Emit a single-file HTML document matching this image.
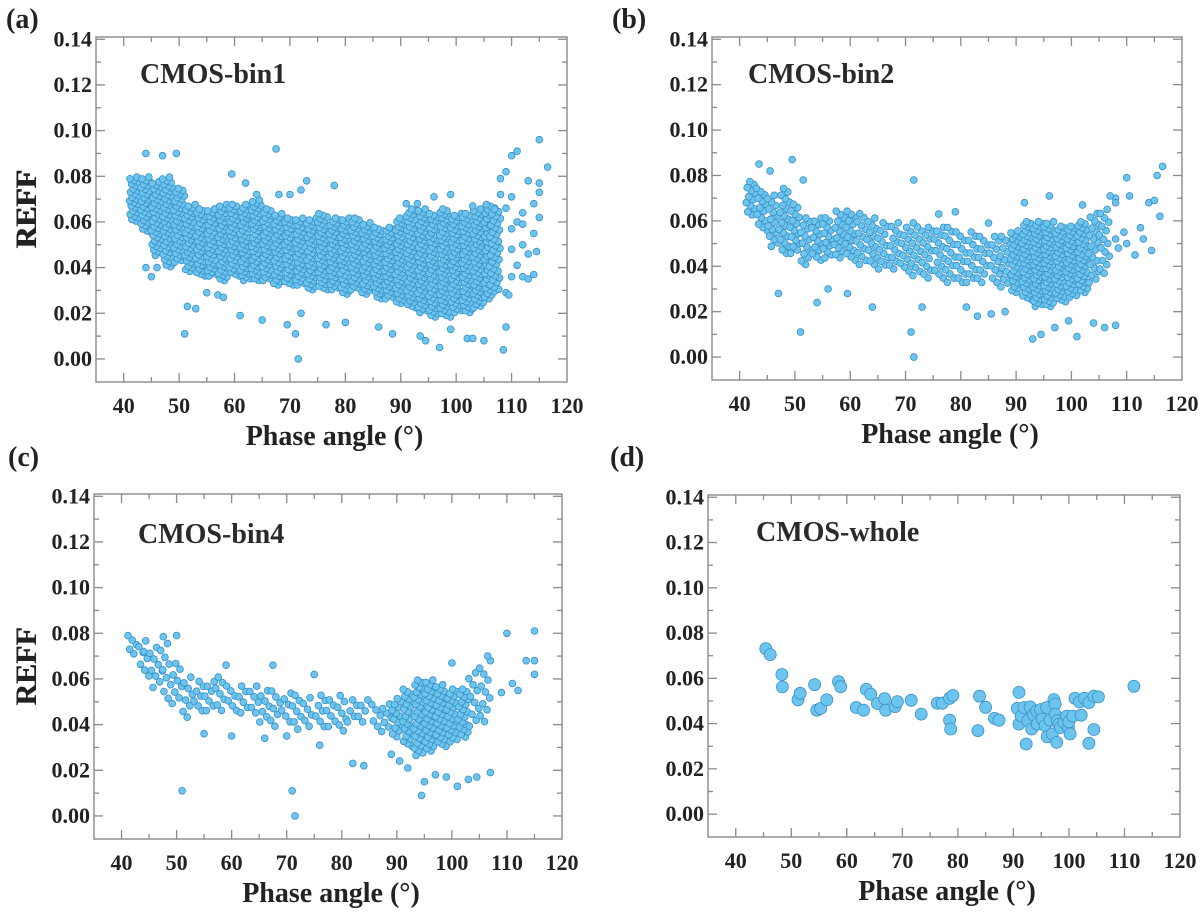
<!DOCTYPE html>
<html><head><meta charset="utf-8"><style>
html,body{margin:0;padding:0;background:#fff;}
svg{display:block;font-family:"Liberation Serif",serif;font-weight:bold;}
</style></head><body>
<svg id="fig" width="1200" height="912" viewBox="0 0 1200 912" xmlns="http://www.w3.org/2000/svg"></svg>
<script>
// ---------- DATA ----------
// Panel (a) CMOS-bin1: dense core bins + isolated points
const aBinX  = [42,44,46,48,50,52,54,56,58,60,62,64,66,68,70,72,74,76,78,80,82,84,86,88,90,92,94,96,98,100,102,104,106,107];
const aBinLo = [0.060,0.055,0.045,0.040,0.042,0.038,0.036,0.036,0.034,0.036,0.034,0.034,0.034,0.032,0.032,0.032,0.030,0.030,0.030,0.028,0.030,0.028,0.026,0.026,0.024,0.022,0.020,0.018,0.018,0.020,0.020,0.022,0.026,0.030];
const aBinHi = [0.080,0.080,0.078,0.080,0.075,0.068,0.066,0.066,0.068,0.068,0.068,0.070,0.066,0.064,0.062,0.062,0.062,0.064,0.062,0.062,0.062,0.060,0.058,0.058,0.062,0.066,0.066,0.064,0.066,0.064,0.064,0.066,0.068,0.066];
const aBinN  = [27,33,42,51,42,39,39,39,45,42,45,48,42,42,39,39,42,45,42,45,42,42,42,42,51,57,60,60,63,57,57,57,54,36];
const aPtX = [47,49.5,44,59.5,67.5,62,78,73,51,51.5,53,61,65,69.5,71,71.5,72,76.5,80,86,88.5,93.5,94.5,97,99,102,103,105,108.5,109,110,111,115,116.5,115,115,113,112,114,115,110,111,110,111,112,113,114,112,113,114,114.5,109,109.5,110,108,109,108,109,110,112,45,44,46,55,57,58,64,68,70,72,91,93,96,99,103];
const aPtY = [0.089,0.090,0.090,0.081,0.092,0.077,0.076,0.078,0.011,0.023,0.022,0.019,0.017,0.015,0.011,0.000,0.020,0.015,0.016,0.014,0.011,0.010,0.008,0.005,0.013,0.009,0.009,0.008,0.004,0.014,0.089,0.091,0.096,0.084,0.077,0.073,0.078,0.064,0.068,0.062,0.071,0.060,0.048,0.041,0.036,0.035,0.037,0.050,0.046,0.055,0.047,0.029,0.028,0.036,0.079,0.082,0.072,0.066,0.057,0.059,0.036,0.040,0.040,0.029,0.028,0.027,0.072,0.072,0.072,0.074,0.068,0.068,0.071,0.072,0.067];

// Panel (b) CMOS-bin2
const bBinX  = [42,44,46,48,50,52,54,56,58,60,62,64,66,68,70,72,74,76,78,80,82,84,86,88,90,92,94,96,98,100,102,104,106];
const bBinLo = [0.062,0.055,0.048,0.045,0.045,0.040,0.042,0.043,0.043,0.042,0.040,0.040,0.038,0.038,0.037,0.035,0.034,0.034,0.032,0.032,0.032,0.032,0.032,0.030,0.028,0.025,0.022,0.022,0.024,0.026,0.028,0.032,0.036];
const bBinHi = [0.078,0.075,0.072,0.075,0.068,0.062,0.062,0.062,0.065,0.065,0.064,0.062,0.060,0.060,0.058,0.060,0.058,0.058,0.058,0.056,0.056,0.054,0.054,0.054,0.056,0.060,0.060,0.060,0.058,0.058,0.060,0.064,0.066];
const bBinN  = [12,14,16,20,16,14,14,14,15,16,14,14,13,13,12,14,14,14,14,13,13,12,12,14,32,44,50,50,44,40,36,20,16];
const bPtX = [43.5,45.5,49.5,51.5,71.5,51,71,71.5,64,73,81,83,85.5,47,59.5,56,54,88,93,94.5,97,101,106,104,108,99.5,110,115.5,116.5,114,115,116,110.5,109.5,110,112.5,113,111.5,114.5,108,108.5,108,108,107,96,102,91.5,85,76,79];
const bPtY = [0.085,0.082,0.087,0.078,0.078,0.011,0.011,0.000,0.022,0.022,0.022,0.018,0.019,0.028,0.028,0.030,0.024,0.020,0.008,0.010,0.013,0.009,0.013,0.015,0.014,0.016,0.079,0.080,0.084,0.068,0.069,0.062,0.071,0.055,0.050,0.057,0.052,0.045,0.047,0.052,0.048,0.070,0.068,0.071,0.071,0.067,0.068,0.059,0.063,0.064];

// Panel (c) CMOS-bin4
const cBinX  = [42,44,46,48,50,52,54,56,58,60,62,64,66,68,70,72,74,76,78,80,82,84,86,88,90,92,94,96,98,100,102,104,106];
const cBinLo = [0.070,0.060,0.055,0.050,0.048,0.042,0.045,0.045,0.045,0.045,0.044,0.044,0.040,0.038,0.040,0.040,0.038,0.038,0.038,0.036,0.040,0.040,0.038,0.036,0.034,0.030,0.026,0.028,0.030,0.032,0.034,0.038,0.040];
const cBinHi = [0.080,0.078,0.075,0.080,0.068,0.062,0.060,0.060,0.062,0.058,0.058,0.058,0.056,0.056,0.055,0.054,0.053,0.054,0.052,0.054,0.052,0.052,0.050,0.050,0.052,0.056,0.060,0.060,0.058,0.056,0.056,0.064,0.066];
const cBinN  = [5,7,8,10,8,8,7,7,7,6,6,6,7,7,6,6,6,7,6,7,5,5,5,7,14,24,32,32,28,24,20,10,10];
const cPtX = [51,71,71.5,110,115,113.5,115,115,111,112,109,107,106.5,100,82,84,95,94.5,92,97,101,103,104.5,107,99,55,60,70,66,72,76,89,90.5,50,44,47.5,75,67.5,59];
const cPtY = [0.011,0.011,0.000,0.080,0.081,0.068,0.068,0.062,0.058,0.055,0.054,0.068,0.070,0.067,0.023,0.022,0.015,0.009,0.021,0.018,0.013,0.016,0.017,0.019,0.017,0.036,0.035,0.035,0.034,0.038,0.031,0.027,0.024,0.079,0.072,0.064,0.062,0.066,0.066];

// Panel (d) CMOS-whole: individual points
const dX = [45.4,46.2,48.3,48.4,51.2,51.6,54.2,54.6,55.3,56.4,58.5,58.9,61.7,63.0,63.5,64.3,65.5,66.8,67.0,68.7,69.1,71.6,73.4,76.3,77.2,78.5,79.1,78.5,78.7,83.6,83.9,85.0,86.6,87.4,91.0,90.7,91.0,91.4,91.9,92.3,92.6,93.0,93.3,93.6,94.2,94.3,94.9,95.2,95.7,96.0,96.1,96.6,97.0,97.3,97.5,97.5,97.8,97.9,98.2,98.5,99.1,99.6,99.9,100.2,100.0,100.7,101.1,101.9,102.2,102.8,103.6,103.6,104.5,104.5,105.3,111.7];
const dY = [0.0731,0.0705,0.0617,0.0562,0.0505,0.0534,0.0572,0.0459,0.0467,0.0505,0.0585,0.0563,0.0471,0.0459,0.0551,0.0530,0.0489,0.0510,0.0459,0.0475,0.0497,0.0503,0.0442,0.0490,0.0490,0.0512,0.0524,0.0415,0.0376,0.0369,0.0521,0.0472,0.0423,0.0415,0.0538,0.0467,0.0398,0.0433,0.0471,0.0310,0.0413,0.0474,0.0376,0.0439,0.0456,0.0398,0.0462,0.0420,0.0391,0.0471,0.0342,0.0415,0.0354,0.0506,0.0486,0.0442,0.0317,0.0413,0.0398,0.0383,0.0405,0.0433,0.0383,0.0354,0.0408,0.0433,0.0512,0.0496,0.0437,0.0512,0.0493,0.0313,0.0374,0.0521,0.0518,0.0565];

const xTicks = [40,50,60,70,80,90,100,110,120];
const yTicks = [0.00,0.02,0.04,0.06,0.08,0.10,0.12,0.14];
const yTickLabels = ["0.00","0.02","0.04","0.06","0.08","0.10","0.12","0.14"];

// ---------- DRAW ----------
const NS = "http://www.w3.org/2000/svg";
const svg = document.getElementById('fig');
function mk(tag, attrs, parent){ const e=document.createElementNS(NS,tag); for(const k in attrs) e.setAttribute(k,attrs[k]); (parent||svg).appendChild(e); return e; }
const frac = v => v - Math.floor(v);

const X0=35, X1=120, Y0=-0.0101, Y1=0.141;
function panel(cfg){
  const g = mk('g',{});
  
  
  const sx = v => cfg.L + (v-X0)/(X1-X0)*(cfg.R-cfg.L);
  const sy = v => cfg.B - (v-Y0)/(Y1-Y0)*(cfg.B-cfg.T);
  const ax = mk('g',{},g);
  
  
  mk('rect',{x:cfg.L,y:cfg.T,width:cfg.R-cfg.L,height:cfg.B-cfg.T,fill:'none',stroke:'#8a8a8a','stroke-width':1.4},ax);
  for(let v=40; v<120; v+=5){
    const len = (v%10===0)?9:5, x=sx(v);
    mk('line',{x1:x,y1:cfg.B,x2:x,y2:cfg.B-len,stroke:'#8a8a8a','stroke-width':1.3},ax);
    mk('line',{x1:x,y1:cfg.T,x2:x,y2:cfg.T+len,stroke:'#8a8a8a','stroke-width':1.3},ax);
  }
  for(let i=0;i<=14;i++){
    const v=i*0.01, len=(i%2===0)?9:5, y=sy(v);
    mk('line',{x1:cfg.L,y1:y,x2:cfg.L+len,y2:y,stroke:'#8a8a8a','stroke-width':1.3},ax);
    mk('line',{x1:cfg.R,y1:y,x2:cfg.R-len,y2:y,stroke:'#8a8a8a','stroke-width':1.3},ax);
  }
  xTicks.forEach(v=>{
    const t=mk('text',{x:sx(v),y:cfg.B+31,'text-anchor':'middle','font-size':22,fill:'#222'},g);
    
    
    t.textContent=v;
  });
  yTicks.forEach((v,i)=>{
    const t=mk('text',{x:cfg.L-4,y:sy(v)+7,'text-anchor':'end','font-size':22,fill:'#222'},g);
    
    
    t.textContent=yTickLabels[i];
  });
  const xt=mk('text',{x:(cfg.L+cfg.R)/2+3,y:cfg.B+63,'text-anchor':'middle','font-size':28,fill:'#222'},g);
  
  
  xt.textContent='Phase angle (°)';
  const ycx=26, ycy=(cfg.T+cfg.B)/2;
  const yt=mk('text',{x:ycx,y:ycy,'text-anchor':'middle','font-size':30,fill:'#222',transform:`rotate(-90 ${ycx} ${ycy}) translate(0 10)`},g);
  
  
  yt.textContent='REFF';
  const pl=mk('text',{x:cfg.labX,y:cfg.labY,'font-size':28,fill:'#222'},g);
  
  
  pl.textContent='('+cfg.id+')';
  const tt=mk('text',{x:cfg.titX,y:cfg.titY,'font-size':28,fill:'#2a2a2a'},g);
  
  
  tt.textContent=cfg.title;
  const pts=mk('g',{fill:'#6cc5ef',stroke:'#3a8fc4','stroke-width':0.8},g);
  
  
  const dot=(x,y)=>{
    if(y<Y0||y>Y1) return;
    const c=mk('circle',{cx:sx(x).toFixed(1),cy:sy(y).toFixed(1),r:cfg.r},pts);
    
    
  };
  if(cfg.binX){
    cfg.binX.forEach((bx,i)=>{
      const n=cfg.binN[i], lo=cfg.binLo[i], hi=cfg.binHi[i];
      for(let k=0;k<n;k++){
        // spread bin's points evenly across the bin (low-discrepancy layout)
        const u=frac((k+1)*0.6180339887 + i*0.37);
        const v=(k+0.5)/n;
        dot(bx-1+2*u, lo+(hi-lo)*v);
      }
    });
  }
  cfg.ptX.forEach((x,i)=>dot(x,cfg.ptY[i]));
}

panel({id:'a',L:96,R:567,T:37,B:382,labX:6,labY:28,titX:140,titY:83,title:'CMOS-bin1',r:3.4,
  binX:aBinX,binLo:aBinLo,binHi:aBinHi,binN:aBinN,ptX:aPtX,ptY:aPtY});
panel({id:'b',L:712,R:1182,T:37,B:380,labX:612,labY:28,titX:748,titY:83,title:'CMOS-bin2',r:3.4,
  binX:bBinX,binLo:bBinLo,binHi:bBinHi,binN:bBinN,ptX:bPtX,ptY:bPtY});
panel({id:'c',L:94,R:562,T:494,B:839,labX:8,labY:466,titX:138,titY:543,title:'CMOS-bin4',r:3.4,
  binX:cBinX,binLo:cBinLo,binHi:cBinHi,binN:cBinN,ptX:cPtX,ptY:cPtY});
panel({id:'d',L:708,R:1180,T:495,B:837,labX:610,labY:466,titX:756,titY:541,title:'CMOS-whole',r:6,
  ptX:dX,ptY:dY});
</script>
</body></html>
